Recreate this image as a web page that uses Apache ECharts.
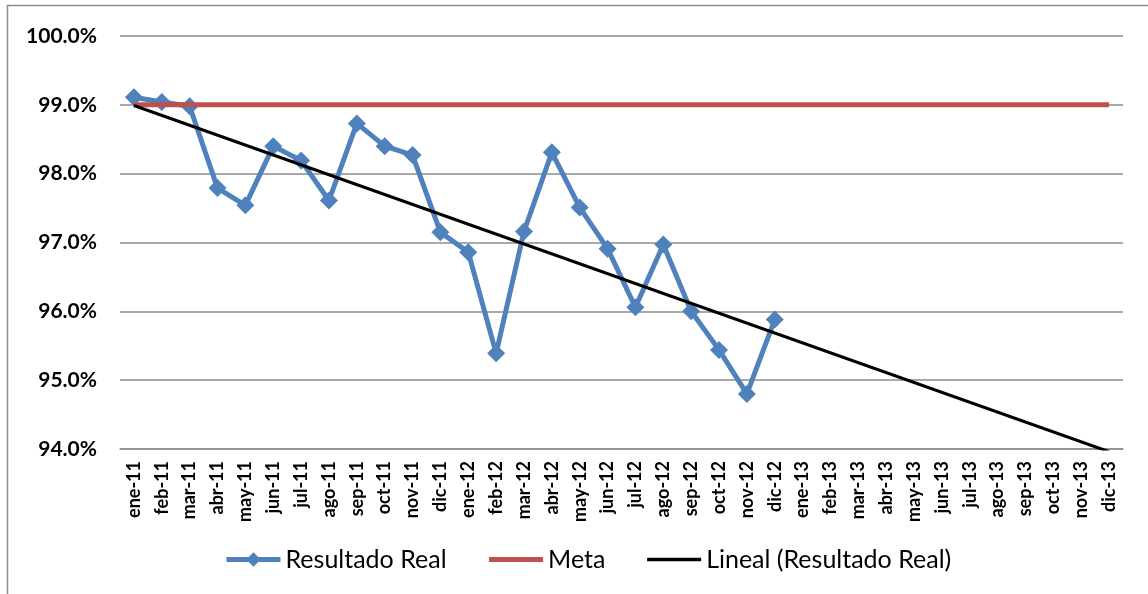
<!DOCTYPE html>
<html>
<head>
<meta charset="utf-8">
<script src="https://cdn.jsdelivr.net/npm/echarts@6/dist/echarts.min.js"></script>
<style>
  html, body { margin: 0; padding: 0; background: #ffffff; }
  #chart { width: 1148px; height: 594px; }
</style>
</head>
<body>
<div id="chart"></div>
<script>
// Months on the category axis (Jan 2011 – Dec 2013)
const months = [
  'ene-11','feb-11','mar-11','abr-11','may-11','jun-11','jul-11','ago-11','sep-11','oct-11','nov-11','dic-11',
  'ene-12','feb-12','mar-12','abr-12','may-12','jun-12','jul-12','ago-12','sep-12','oct-12','nov-12','dic-12',
  'ene-13','feb-13','mar-13','abr-13','may-13','jun-13','jul-13','ago-13','sep-13','oct-13','nov-13','dic-13'
];

// Monthly actual result (%), available through dic-12
const resultadoReal = [
  99.11, 99.04, 98.98, 97.79, 97.54, 98.40, 98.19, 97.61, 98.73, 98.40, 98.27, 97.15,
  96.86, 95.39, 97.16, 98.31, 97.51, 96.91, 96.06, 96.97, 96.00, 95.44, 94.80, 95.88
];

// Target (%) for every month
const meta = [
  99, 99, 99, 99, 99, 99, 99, 99, 99, 99, 99, 99,
  99, 99, 99, 99, 99, 99, 99, 99, 99, 99, 99, 99,
  99, 99, 99, 99, 99, 99, 99, 99, 99, 99, 99, 99
];

// Linear trend of the actual result: value at the first and at the last month
const tendenciaInicio = 98.99;
const tendenciaFin = 93.96;

// Y-axis range (%)
const yMin = 94;
const yMax = 100;
const yStep = 1;

const tendencia = months.map((m, i) =>
  i === 0 ? tendenciaInicio : (i === months.length - 1 ? tendenciaFin : null)
);

const FONT = 'Lato, "Liberation Sans", sans-serif';
const BLUE = '#4F81BD';
const RED = '#C0504D';
const GRID = '#8C8C8C';

const chart = echarts.init(document.getElementById('chart'), null, { renderer: 'canvas' });

chart.setOption({
  backgroundColor: '#ffffff',
  animation: false,
  graphic: [{
    type: 'rect',
    shape: { x: 7.5, y: 5.5, width: 1200, height: 700 },
    style: { fill: 'none', stroke: '#8C8C8C', lineWidth: 1.5 },
    silent: true,
    z: -10
  }],
  grid: { left: 120, right: 25, top: 36, bottom: 145, containLabel: false },
  legend: {
    top: 547,
    left: 224,
    itemWidth: 54,
    itemHeight: 18,
    itemGap: 40,
    padding: 0,
    textStyle: { fontFamily: FONT, fontSize: 25, color: '#000000' },
    data: [
      { name: 'Resultado Real', lineStyle: { width: 5 } },
      { name: 'Meta', lineStyle: { width: 5 }, itemStyle: { opacity: 0 } },
      { name: 'Lineal (Resultado Real)', lineStyle: { width: 3.5 }, itemStyle: { opacity: 0 } }
    ]
  },
  xAxis: {
    type: 'category',
    data: months,
    boundaryGap: true,
    axisLine: { show: true, lineStyle: { color: GRID, width: 1.5 } },
    axisTick: { show: false },
    axisLabel: {
      rotate: 90,
      interval: 0,
      margin: 12,
      fontFamily: FONT,
      fontWeight: 'bold',
      fontSize: 18,
      color: '#000000'
    },
    splitLine: { show: false }
  },
  yAxis: {
    type: 'value',
    min: yMin,
    max: yMax,
    interval: yStep,
    axisLine: { show: false },
    axisTick: { show: false },
    axisLabel: {
      margin: 23,
      fontFamily: FONT,
      fontWeight: 'bold',
      fontSize: 21,
      color: '#000000',
      formatter: v => v.toFixed(1) + '%'
    },
    splitLine: { show: true, lineStyle: { color: GRID, width: 1.5 } }
  },
  series: [
    {
      name: 'Resultado Real',
      type: 'line',
      data: resultadoReal,
      symbol: 'diamond',
      symbolSize: 18,
      lineStyle: { color: BLUE, width: 5 },
      itemStyle: { color: BLUE },
      z: 2
    },
    {
      name: 'Meta',
      type: 'line',
      data: meta,
      symbol: 'none',
      lineStyle: { color: RED, width: 5 },
      itemStyle: { color: RED },
      z: 3
    },
    {
      name: 'Lineal (Resultado Real)',
      type: 'line',
      data: tendencia,
      connectNulls: true,
      symbol: 'none',
      clip: true,
      lineStyle: { color: '#000000', width: 3 },
      itemStyle: { color: '#000000' },
      z: 4
    }
  ]
});
</script>
</body>
</html>
